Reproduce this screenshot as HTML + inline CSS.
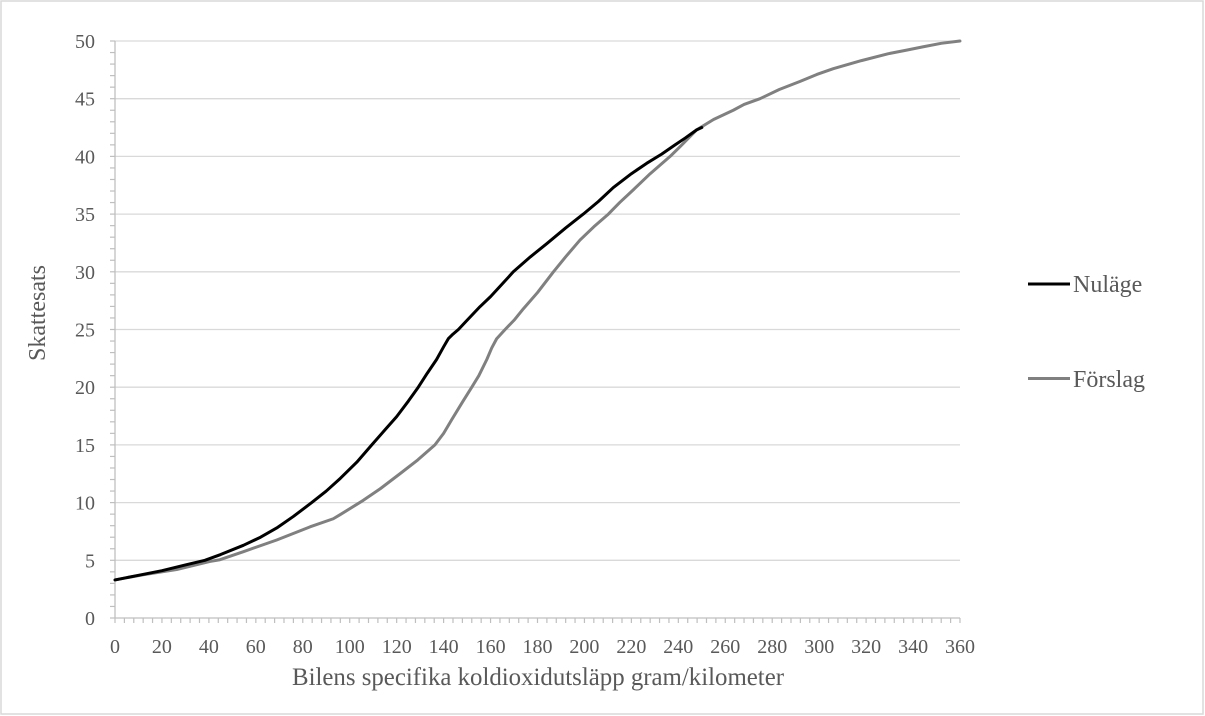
<!DOCTYPE html>
<html>
<head>
<meta charset="utf-8">
<style>
html,body{margin:0;padding:0;background:#fff;}
svg{display:block;}
text{font-family:"Liberation Serif","Times New Roman",serif;fill:#595959;}
</style>
</head>
<body>
<svg width="1205" height="716" viewBox="0 0 1205 716" xmlns="http://www.w3.org/2000/svg">
<rect x="0" y="0" width="1205" height="716" fill="#fff"/>
<rect x="1" y="1" width="1202" height="713" fill="none" stroke="#d9d9d9" stroke-width="1.5"/>

<!-- gridlines -->
<g stroke="#d9d9d9" stroke-width="1.3">
<line x1="115" y1="560.3" x2="960" y2="560.3"/>
<line x1="115" y1="502.6" x2="960" y2="502.6"/>
<line x1="115" y1="444.9" x2="960" y2="444.9"/>
<line x1="115" y1="387.2" x2="960" y2="387.2"/>
<line x1="115" y1="329.5" x2="960" y2="329.5"/>
<line x1="115" y1="271.8" x2="960" y2="271.8"/>
<line x1="115" y1="214.1" x2="960" y2="214.1"/>
<line x1="115" y1="156.4" x2="960" y2="156.4"/>
<line x1="115" y1="98.7" x2="960" y2="98.7"/>
<line x1="115" y1="41" x2="960" y2="41"/>
</g>

<!-- axes -->
<g stroke="#bfbfbf" stroke-width="1.3">
<line x1="115" y1="41" x2="115" y2="618"/>
<line x1="115" y1="618" x2="960" y2="618"/>
</g>

<g stroke="#bfbfbf" stroke-width="1.2" id="yt"></g>
<g stroke="#bfbfbf" stroke-width="1.2" id="xt"></g>

<g font-size="20" text-anchor="end">
<text x="95" y="625">0</text>
<text x="95" y="567.3">5</text>
<text x="95" y="509.6">10</text>
<text x="95" y="451.9">15</text>
<text x="95" y="394.2">20</text>
<text x="95" y="336.5">25</text>
<text x="95" y="278.8">30</text>
<text x="95" y="221.1">35</text>
<text x="95" y="163.4">40</text>
<text x="95" y="105.7">45</text>
<text x="95" y="48">50</text>
</g>

<g font-size="20" text-anchor="middle">
<text x="115" y="653">0</text>
<text x="161.9" y="653">20</text>
<text x="208.9" y="653">40</text>
<text x="255.8" y="653">60</text>
<text x="302.8" y="653">80</text>
<text x="349.7" y="653">100</text>
<text x="396.7" y="653">120</text>
<text x="443.6" y="653">140</text>
<text x="490.6" y="653">160</text>
<text x="537.5" y="653">180</text>
<text x="584.4" y="653">200</text>
<text x="631.4" y="653">220</text>
<text x="678.3" y="653">240</text>
<text x="725.3" y="653">260</text>
<text x="772.2" y="653">280</text>
<text x="819.2" y="653">300</text>
<text x="866.1" y="653">320</text>
<text x="913.1" y="653">340</text>
<text x="960" y="653">360</text>
</g>

<text x="292" y="685" font-size="25" textLength="492" lengthAdjust="spacingAndGlyphs">Bilens specifika koldioxidutsläpp gram/kilometer</text>
<text transform="translate(45,313) rotate(-90)" font-size="24" text-anchor="middle" textLength="96" lengthAdjust="spacingAndGlyphs">Skattesats</text>

<!-- series -->
<g transform="translate(115,618) scale(2.3472,-11.54)" fill="none" stroke-linejoin="round" stroke-linecap="round">
<polyline vector-effect="non-scaling-stroke" stroke="#808080" stroke-width="3" points="0,3.3 12,3.75 26.3,4.2 40.5,4.9 44.7,5.05 54.7,5.75 68.9,6.76 83.1,7.9 93,8.6 95.9,8.95 105.8,10.2 113,11.2 121.4,12.5 129,13.7 136.3,15.0 140,16.0 143.5,17.2 148,18.7 152,20.0 155,21.0 158.4,22.4 160.5,23.4 162.6,24.2 166.2,25.0 170,25.8 174,26.8 180,28.2 186.8,30.0 192,31.3 198.1,32.75 204,33.9 210.2,35.0 215,36.0 220.8,37.1 228,38.5 236.5,40.0 241,40.9 247.8,42.3 255,43.2 263.4,44.0 268,44.5 274.8,45.0 283,45.8 291.9,46.5 299,47.1 306,47.6 318,48.3 329.5,48.9 337,49.2 344.4,49.5 352,49.8 360,50.0"/>
<polyline vector-effect="non-scaling-stroke" stroke="#000000" stroke-width="3" points="0,3.3 10,3.7 20,4.1 30,4.6 38.3,5.0 45,5.5 54.7,6.3 62,7.0 68.9,7.8 76,8.8 83.8,10.0 90,11.0 96,12.1 103,13.5 109.4,15.0 115,16.3 120,17.45 125,18.8 129.2,20.0 133,21.2 137,22.4 140,23.5 142,24.2 144,24.6 146.3,25.0 150,25.8 155.5,26.98 160,27.85 165,28.95 169.7,30.0 177,31.3 184,32.45 192,33.8 199.5,35.0 206,36.1 212.3,37.3 220,38.5 226.5,39.4 232.9,40.2 238.6,41.0 243,41.6 247.8,42.3 250,42.5"/>
</g>

<!-- legend -->
<line x1="1028" y1="284" x2="1070" y2="284" stroke="#000" stroke-width="3"/>
<text x="1073" y="292" font-size="24">Nuläge</text>
<line x1="1028" y1="378.5" x2="1070" y2="378.5" stroke="#808080" stroke-width="3"/>
<text x="1073" y="387" font-size="24">Förslag</text>

<script>
(function(){
var ns="http://www.w3.org/2000/svg";
var yt=document.getElementById("yt");
for(var i=0;i<=50;i++){var y=618-i*11.54;var l=document.createElementNS(ns,"line");l.setAttribute("x1",110);l.setAttribute("x2",115);l.setAttribute("y1",y);l.setAttribute("y2",y);yt.appendChild(l);}
var xt=document.getElementById("xt");
for(var v=0;v<=360;v+=4){var x=115+v*2.3472;var l2=document.createElementNS(ns,"line");l2.setAttribute("x1",x);l2.setAttribute("x2",x);l2.setAttribute("y1",618);l2.setAttribute("y2",623);xt.appendChild(l2);}
})();
</script>
</svg>
</body>
</html>
